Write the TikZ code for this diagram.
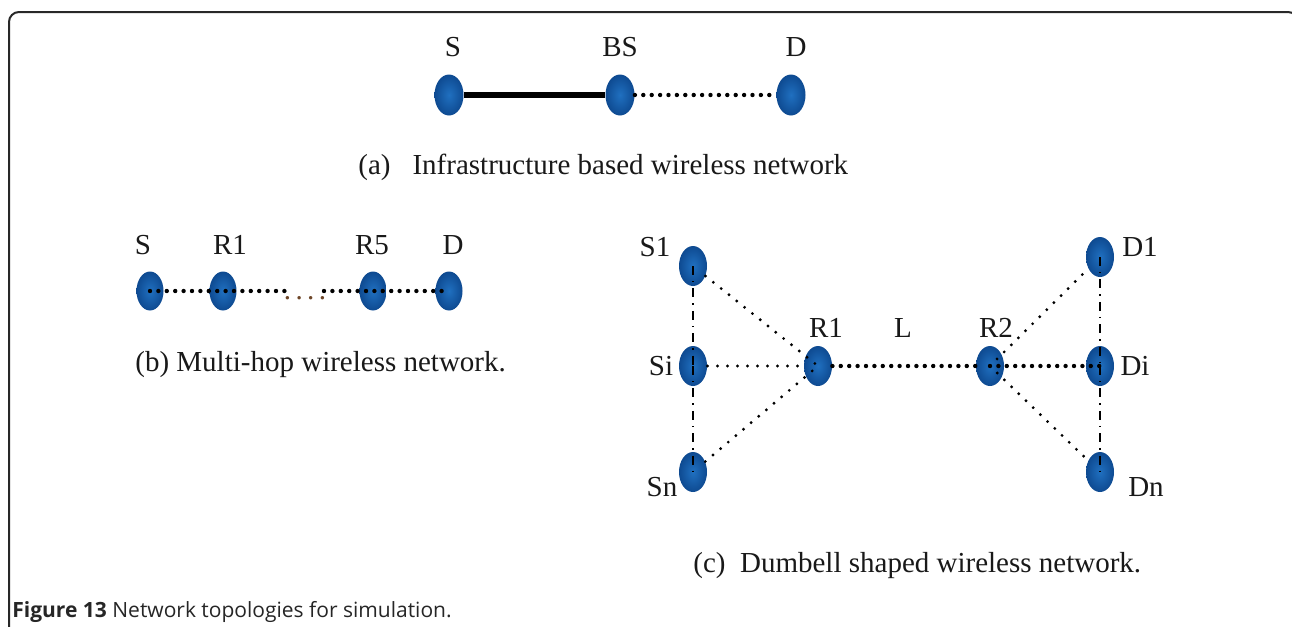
\documentclass[tikz,border=0pt]{standalone}
\usepackage{fontspec}
\setmainfont{Liberation Serif}
\newfontfamily\capfont{Open Sans}
\usetikzlibrary{shapes.geometric}
\definecolor{nodein}{RGB}{32,112,192}
\definecolor{nodeout}{RGB}{14,74,145}
\definecolor{framegray}{RGB}{40,40,40}
\definecolor{dotbrown}{RGB}{110,70,40}
\begin{document}
\begin{tikzpicture}[x=0.5pt,y=-0.5pt,
  nd/.style={ellipse, minimum width=14.5pt, minimum height=20.5pt, inner sep=0pt, draw=none,
             inner color=nodein, outer color=nodeout},
  ndb/.style={nd, minimum width=13.5pt, minimum height=19.5pt},
  ndc/.style={nd, minimum width=14pt, minimum height=20pt},
  lbl/.style={font=\fontsize{14.5}{17}\selectfont, inner sep=0pt, text=black!90},
  capt/.style={lbl, anchor=west},
  solidln/.style={line width=2.8pt},
  heavydot/.style={line width=2.2pt, line cap=round, dash pattern=on 0pt off 4.2pt},
  lightdot/.style={line width=1.6pt, line cap=round, dash pattern=on 0pt off 5pt},
  dashdot/.style={line width=1.4pt, dash pattern=on 4.5pt off 3pt on 0.7pt off 3pt},
  frame/.style={draw=framegray, line width=1pt, rounded corners=5pt}]
\clip (0,0) rectangle (1292,627);
\fill[white] (0,0) rectangle (1292,627);
\draw[frame] (9,660) -- (9,12) -- (1298,12) -- (1298,660);

% (a) infrastructure
\node[nd] (aS) at (449,95) {};
\node[nd] (aBS) at (620,95) {};
\node[nd] (aD) at (791,95) {};
\node[lbl] (laS) at (453,47) {S};
\node[lbl] (laBS) at (620,47) {BS};
\node[lbl] (laD) at (796,47) {D};
\draw[solidln] (aS.east) -- (aBS.west);
\draw[heavydot] (aBS.east) -- (aD.west);
\node[capt] (capa) at (358,167) {(a)\hspace{11pt}Infrastructure based wireless network};

% (b) multi-hop
\node[ndb] (bS) at (150,291) {};
\node[ndb] (bR1) at (223,291) {};
\node[ndb] (bR5) at (373,291) {};
\node[ndb] (bD) at (449,291) {};
\node[lbl] (lbS) at (143,245) {S};
\node[lbl] (lbR1) at (230,245) {R1};
\node[lbl] (lbR5) at (372,245) {R5};
\node[lbl] (lbD) at (453,245) {D};
\coordinate (g1) at (286,291);
\coordinate (g2) at (324,291);
\node[lbl, text=dotbrown, anchor=base] (bdots) at (305,299) {.\kern2.2pt.\kern2.2pt.\kern2.2pt.};
\draw[heavydot] (bS.center) -- (g1);
\draw[heavydot] (g2) -- (bD.center);
\node[capt] (capb) at (135,365) {(b) Multi-hop wireless network.};

% (c) dumbbell
\node[ndc] (S1) at (693,266) {};
\node[ndc] (Si) at (693,366) {};
\node[ndc] (Sn) at (693,472) {};
\node[ndc] (R1) at (818,366) {};
\node[ndc] (R2) at (990,366) {};
\node[ndc] (D1) at (1100,257) {};
\node[ndc] (Di) at (1100,366) {};
\node[ndc] (Dn) at (1100,472) {};
\node[lbl] (lS1) at (655,247) {S1};
\node[lbl] (lSi) at (661,366) {Si};
\node[lbl] (lSn) at (662,487) {Sn};
\node[lbl] (lR1) at (826,328) {R1};
\node[lbl] (lL) at (903,328) {L};
\node[lbl] (lR2) at (996,328) {R2};
\node[lbl] (lD1) at (1140,247) {D1};
\node[lbl] (lDi) at (1135,366) {Di};
\node[lbl] (lDn) at (1146,487) {Dn};
\draw[dashdot] (S1.center) -- (Si.center);
\draw[dashdot] (Si.center) -- (Sn.center);
\draw[dashdot] (D1.center) -- (Di.center);
\draw[dashdot] (Di.center) -- (Dn.center);
\draw[lightdot] (S1) -- (R1.center);
\draw[lightdot] (Si) -- (R1);
\draw[lightdot] (Sn) -- (R1.center);
\draw[heavydot] (R1) -- (R2);
\draw[lightdot] (R2.center) -- (D1);
\draw[heavydot] (R2.center) -- (Di.center);
\draw[lightdot] (R2.center) -- (Dn);
\node[capt] (capc) at (693,566) {(c)\enskip Dumbell shaped wireless network.};

% figure caption
\node[anchor=west, inner sep=0pt, font=\capfont\fontsize{10.5}{12}\selectfont, text=black!85] (figcap) at (12,612)
  {\textbf{Figure 13} Network topologies for simulation.};
\end{tikzpicture}
\end{document}
